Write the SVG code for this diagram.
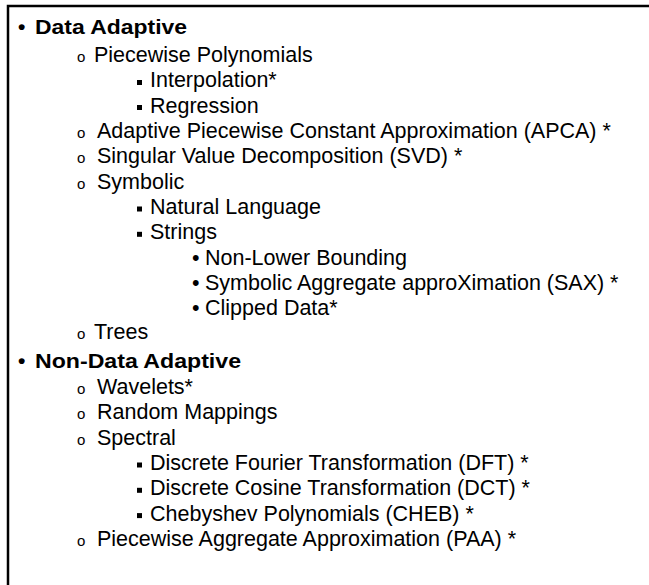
<svg xmlns="http://www.w3.org/2000/svg" width="649" height="585" viewBox="0 0 649 585">
<style>
text{font-family:"Liberation Sans",Arial,sans-serif;font-size:21.5px;fill:#000}
.b{font-weight:bold;font-size:21px}
.o{font-size:15px}
</style>
<rect x="0" y="0" width="649" height="585" fill="#fff"/>
<g id="frame"><path d="M8 585 V6 H649" fill="none" stroke="#000" stroke-width="2.5"/></g>
<g id="data-adaptive">
<text x="18" y="34" class="b">•</text><text x="35" y="34" class="b" textLength="152" lengthAdjust="spacingAndGlyphs">Data Adaptive</text>
<text x="77" y="62" class="o">o</text><text x="94" y="62">Piecewise Polynomials</text>
<rect x="137" y="80" width="5" height="5"/><text x="150" y="87.4">Interpolation*</text>
<rect x="137" y="105" width="5" height="5"/><text x="150" y="112.7">Regression</text>
<text x="77" y="138" class="o">o</text><text x="97" y="138">Adaptive Piecewise Constant Approximation (APCA) *</text>
<text x="77" y="163.3" class="o">o</text><text x="97" y="163.3">Singular Value Decomposition (SVD) *</text>
<text x="77" y="188.6" class="o">o</text><text x="97" y="188.6">Symbolic</text>
<rect x="137" y="206.5" width="5" height="5"/><text x="150" y="213.9">Natural Language</text>
<rect x="137" y="231.8" width="5" height="5"/><text x="150" y="239.2">Strings</text>
<text x="192" y="264.5">•</text><text x="205" y="264.5">Non-Lower Bounding</text>
<text x="192" y="289.8">•</text><text x="205" y="289.8">Symbolic Aggregate approXimation (SAX) *</text>
<text x="192" y="315.1">•</text><text x="205" y="315.1">Clipped Data*</text>
<text x="77" y="339.4" class="o">o</text><text x="94" y="339.4">Trees</text>
</g>
<g id="non-data-adaptive">
<text x="18" y="368" class="b">•</text><text x="35" y="368" class="b" textLength="206" lengthAdjust="spacingAndGlyphs">Non-Data Adaptive</text>
<text x="77" y="394" class="o">o</text><text x="97" y="394">Wavelets*</text>
<text x="77" y="419.3" class="o">o</text><text x="97" y="419.3">Random Mappings</text>
<text x="77" y="444.6" class="o">o</text><text x="97" y="444.6">Spectral</text>
<rect x="137" y="462.5" width="5" height="5"/><text x="150" y="469.9">Discrete Fourier Transformation (DFT) *</text>
<rect x="137" y="487.8" width="5" height="5"/><text x="150" y="495.2">Discrete Cosine Transformation (DCT) *</text>
<rect x="137" y="513.1" width="5" height="5"/><text x="150" y="520.5">Chebyshev Polynomials (CHEB) *</text>
<text x="77" y="545.8" class="o">o</text><text x="97" y="545.8">Piecewise Aggregate Approximation (PAA) *</text>
</g>
</svg>
